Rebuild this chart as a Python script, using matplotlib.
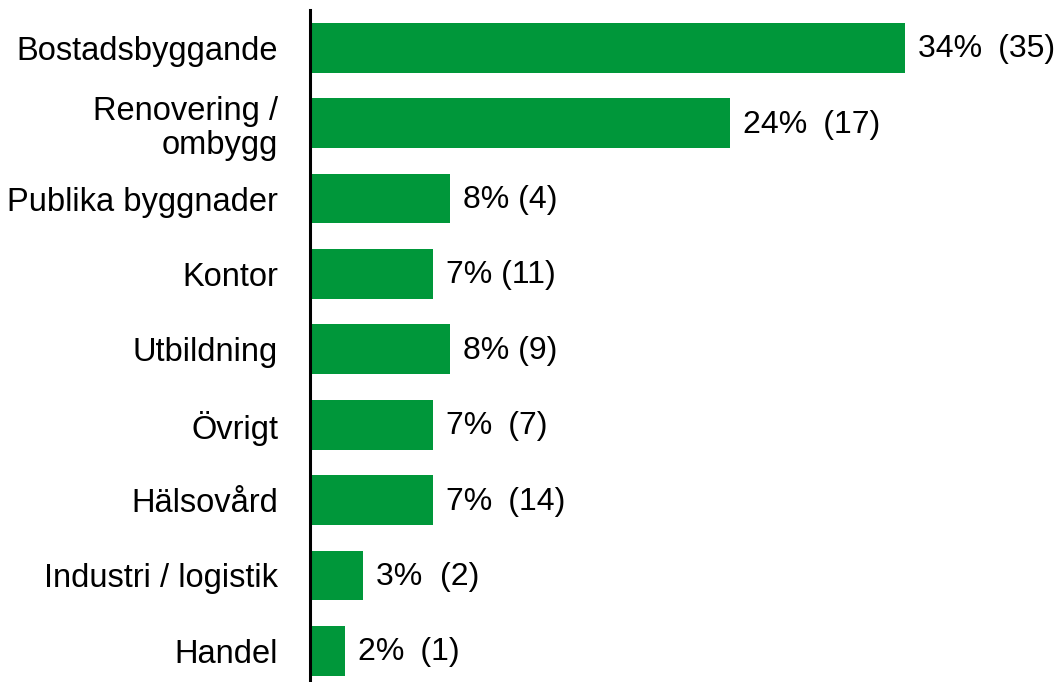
import matplotlib
matplotlib.use("Agg")
import matplotlib.pyplot as plt

categories = [
    "Bostadsbyggande",
    "Renovering /\nombygg",
    "Publika byggnader",
    "Kontor",
    "Utbildning",
    "Övrigt",
    "Hälsovård",
    "Industri / logistik",
    "Handel",
]
percent = [34, 24, 8, 7, 8, 7, 7, 3, 2]
counts = [35, 17, 4, 11, 9, 7, 14, 2, 1]
# gap between percentage and count, as in the original labels
separators = ["\u2002", "\u2002", " ", " ", " ", "\u2002", "\u2002", "  ", "\u2002"]

plt.rcParams["font.family"] = ["Liberation Sans", "DejaVu Sans"]

fig = plt.figure(figsize=(10.58, 6.82), dpi=100)
ax = fig.add_axes([310 / 1058, -6.6 / 682, 748 / 1058, 678.6 / 682])

y = list(range(len(categories)))
bars = ax.barh(y, percent, height=0.66, color="#00973a")

for bar, p, n, sep in zip(bars, percent, counts, separators):
    ax.text(
        bar.get_width() + 0.75,
        bar.get_y() + bar.get_height() / 2 + 0.02,
        f"{p}%{sep}({n})",
        va="center",
        ha="left",
        fontsize=23,
    )

ax.set_yticks(y)
ax.set_yticklabels(categories, fontsize=23.5, ha="right", linespacing=1.15)
ax.tick_params(axis="y", length=0, pad=23)
ax.set_ylim(len(categories) - 0.5, -0.5)
ax.set_xlim(0, 748 / 17.5)
ax.set_xticks([])

for side in ["top", "right", "bottom"]:
    ax.spines[side].set_visible(False)
ax.spines["left"].set_linewidth(2.2)
ax.spines["left"].set_color("black")

fig.savefig("out.png", dpi=100)
